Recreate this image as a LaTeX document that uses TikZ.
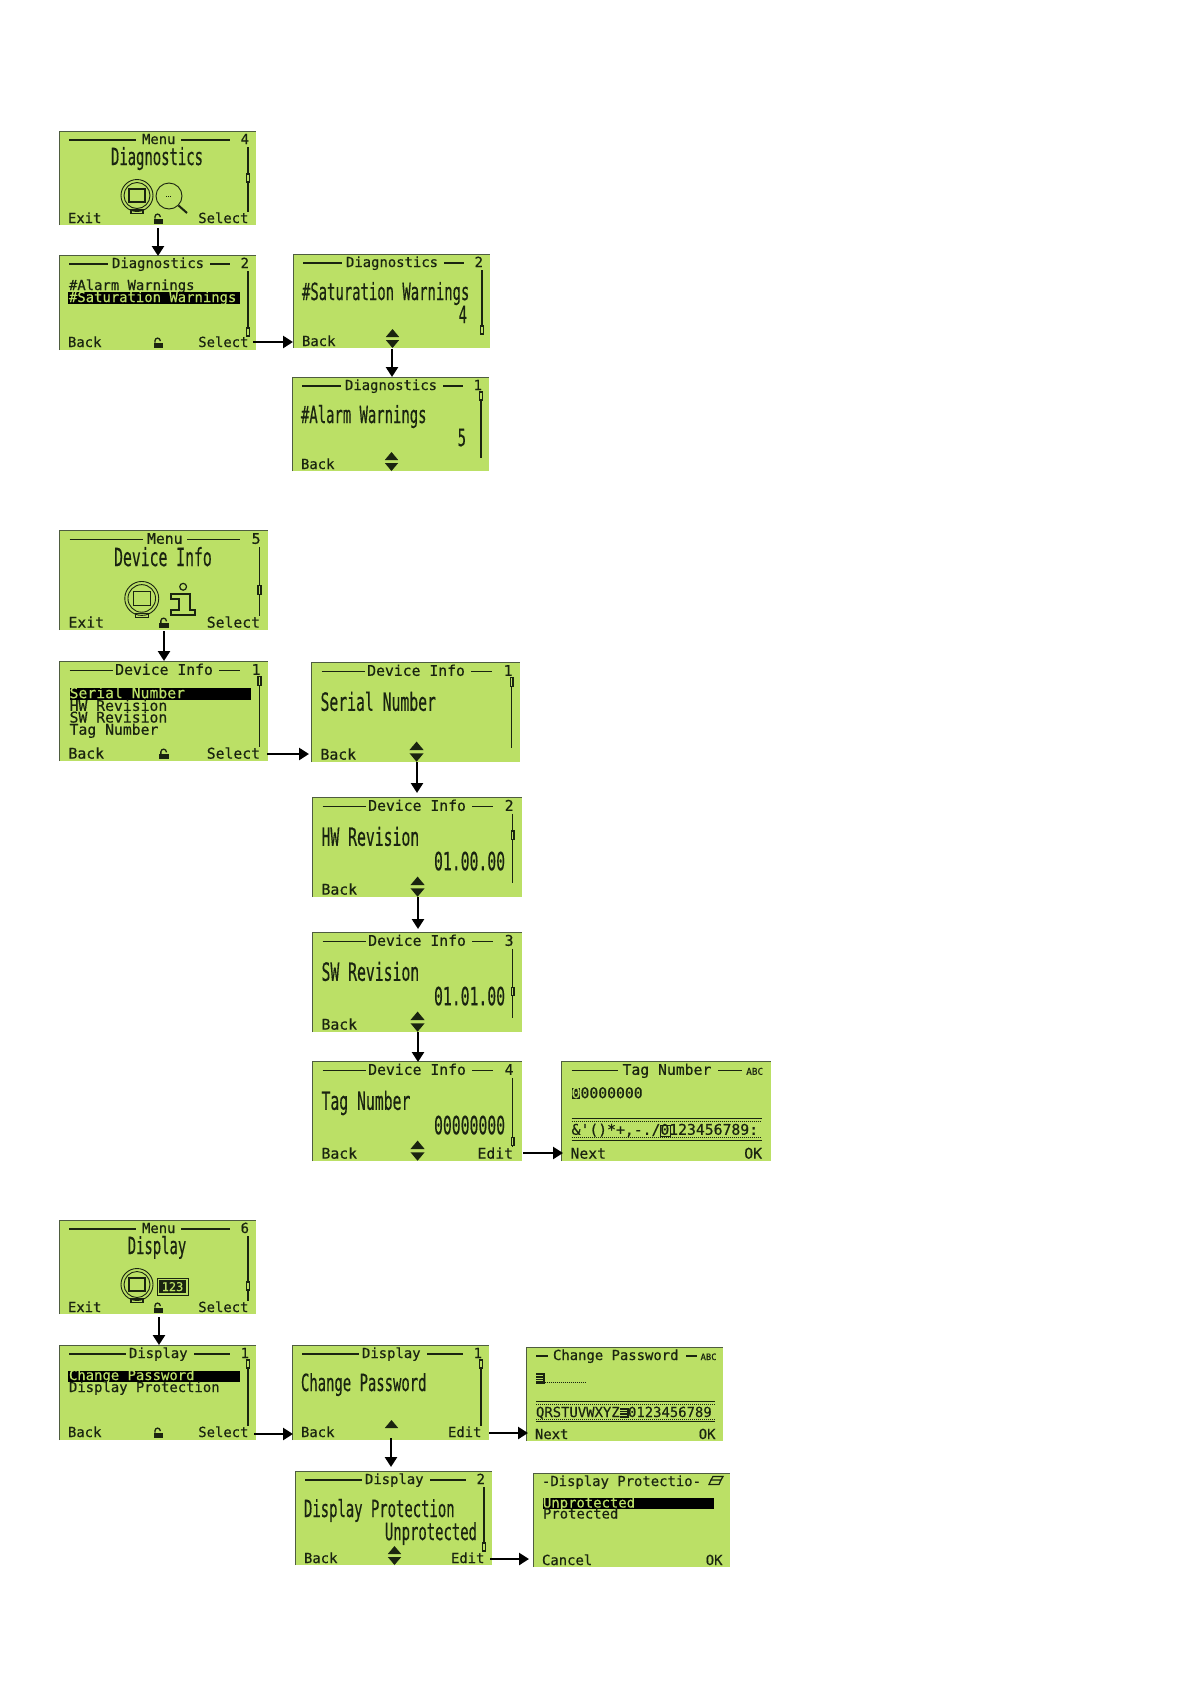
\documentclass[tikz,border=0pt]{standalone}
\usepackage{fontspec}
\usetikzlibrary{arrows.meta,calc}
\newfontfamily\lcdfam[FakeBold=0.5]{DejaVu Sans Mono}
\definecolor{lcdbg}{HTML}{BBE066}
\definecolor{lcdink}{HTML}{1A2410}
\definecolor{lcdedge}{HTML}{4E5C40}
\newcounter{tn}
\tikzset{
  lcd/.style={fill=lcdbg,draw=none,inner sep=0pt,outer sep=0pt,anchor=north west},
  edgeline/.style={draw=lcdedge,line width=1pt},
  txt/.style={transform shape,font=\lcdfam\fontsize{13.9}{14}\selectfont,text=lcdink,inner sep=0pt,outer sep=0pt},
  inv/.style={txt,text=lcdbg},
  ink/.style={draw=lcdink,line width=1.1pt},
  flow/.style={draw=black,line width=2.6pt,-{Triangle[length=10pt,width=12pt]}}
}
\newcommand\TxtL[3]{\stepcounter{tn}\node[txt,anchor=base west] (t\arabic{tn}) at (#1,#2) {#3};}
\newcommand\TxtR[3]{\stepcounter{tn}\node[txt,anchor=base east] (t\arabic{tn}) at (#1,#2) {#3};}
\newcommand\TxtInv[3]{\stepcounter{tn}\node[inv,anchor=base west] (t\arabic{tn}) at (#1,#2) {#3};}
\newcommand\BigL[3]{\stepcounter{tn}\node[txt,anchor=base west] (t\arabic{tn}) at (#1,#2) {\scalebox{1}[1.7]{#3}};}
\newcommand\BigR[3]{\stepcounter{tn}\node[txt,anchor=base east] (t\arabic{tn}) at (#1,#2) {\scalebox{1}[1.7]{#3}};}
\newcommand\BigC[3]{\stepcounter{tn}\node[txt,anchor=base] (t\arabic{tn}) at (#1,#2) {\scalebox{1}[1.7]{#3}};}
% name, x, y, w, h, scale, contents
\newcommand\Screen[7]{%
  \node[lcd,minimum width=#4pt,minimum height=#5pt] (#1) at (#2,#3) {};
  \draw[edgeline] (#1.south west) -- (#1.north west) -- (#1.north east);
  \begin{scope}[shift={(#2,#3)},scale=#6]#7\end{scope}
}
\newcommand\Head[5]{% rule end, title x, rule start, title, page
  \draw[ink] (10,9) -- (#1,9);
  \draw[ink] (#3,9) -- (171,9);
  \TxtL{#2}{13}{#4}
  \TxtR{190}{13}{#5}
}
\newcommand\Foot[2]{\TxtL{9}{92}{#1}\TxtR{189.5}{92}{#2}}
\newcommand\Sbar[3]{% top, bottom, knob
  \draw[ink] (189,#1) -- (189,#2);
  \filldraw[ink,fill=lcdbg] (187.6,#3-4) rectangle (190.4,#3+4);
}
\newcommand\Lock{%
  \fill[lcdink] (94.5,87.5) rectangle (104,92.5);
  \draw[lcdink,line width=1.3pt] (96,87.5) -- (96,85.7) arc[start angle=180,end angle=360,radius=2.6] -- (101.2,86);
}
\newcommand\UpTri{\fill[lcdink] (92.8,83) -- (106.2,83) -- (99.5,75) -- cycle;}
\newcommand\DnTri{\fill[lcdink] (92.8,86) -- (106.2,86) -- (99.5,94) -- cycle;}
\newcommand\Device{%
  \draw[lcdink,line width=.9pt] (78,64.5) circle[radius=16];
  \draw[lcdink,line width=.9pt] (78,64.5) circle[radius=13];
  \draw[lcdink,line width=1.1pt] (70,58) rectangle (86,71);
  \draw[lcdink,line width=1.1pt] (72,79) rectangle (84,82.5);
}
\newcommand\StripeBox[2]{%
  \fill[lcdink] (#1,#2) rectangle (#1+8.5,#2+10.5);
  \draw[lcdbg,line width=.7pt] (#1,#2+2.6) -- (#1+7,#2+2.6) (#1,#2+5.2) -- (#1+7,#2+5.2) (#1,#2+7.8) -- (#1+7,#2+7.8);
}
\newcommand\Strip{%
  \draw[ink] (10,54.5) -- (189,54.5);
  \draw[lcdink,line width=.9pt,dash pattern=on .9pt off 1.1pt] (10,57) -- (189,57);
  \draw[lcdink,line width=.9pt,dash pattern=on .9pt off 1.1pt] (10,72) -- (189,72);
  \draw[ink] (10,74.5) -- (189,74.5);
}
\newcommand\ABC{\stepcounter{tn}\node[txt,anchor=base east,font=\lcdfam\fontsize{8.8}{9}\selectfont] (t\arabic{tn}) at (190.5,13) {ABC};}
\begin{document}
\begin{tikzpicture}[x=1pt,y=-1pt]
\useasboundingbox[fill=white] (0,0) rectangle (1191,1684);

% ---------- Diagnostics ----------
\Screen{da}{59}{131}{197}{94}{1}{
  \Head{77}{83}{122}{Menu}{4}
  \Sbar{16}{81}{47}
  \BigC{98}{34}{Diagnostics}
  \Device
  \draw[lcdink,line width=.9pt] (110,65) circle[radius=13];
  \draw[lcdink,line width=2pt] (119.5,74.5) -- (128,82);
  \draw[lcdink,line width=.9pt,dash pattern=on 1pt off 1pt] (107,65) -- (113,65);
  \Foot{Exit}{Select}
  \Lock
}
\Screen{db}{59}{255}{197}{95}{1}{
  \Head{49}{53}{151}{Diagnostics}{2}
  \Sbar{16}{81}{77}
  \TxtL{10}{35}{\#Alarm Warnings}
  \fill[black] (9,37) rectangle (181,49);
  \TxtInv{10}{47}{\#Saturation Warnings}
  \Foot{Back}{Select}
  \Lock
}
\Screen{dc}{293}{254}{197}{94}{1}{
  \Head{49}{53}{151}{Diagnostics}{2}
  \Sbar{16}{81}{76}
  \BigL{9}{46}{\#Saturation Warnings}
  \BigR{174}{69}{4}
  \TxtL{9}{92}{Back}
  \UpTri \DnTri
}
\Screen{dd}{292}{377}{197}{94}{1}{
  \Head{49}{53}{151}{Diagnostics}{1}
  \Sbar{19}{81}{19}
  \BigL{9}{46}{\#Alarm Warnings}
  \BigR{174}{69}{5}
  \TxtL{9}{92}{Back}
  \UpTri \DnTri
}

% ---------- Device Info ----------
\Screen{ia}{59}{530}{209}{100}{1.061}{
  \Head{79}{83}{121}{Menu}{5}
  \Sbar{16}{81}{56.5}
  \BigC{98}{34}{Device Info}
  \Device
  \draw[lcdink,line width=1.2pt] (117,53.5) circle[radius=3.2];
  \draw[lcdink,line width=2pt] (106,60) -- (123,60) -- (123,75) -- (128,75) -- (128,80.5) -- (106,80.5) -- (106,75) -- (113,75) -- (113,65) -- (106,65) -- cycle;
  \Foot{Exit}{Select}
  \Lock
}
\Screen{ib}{59}{661}{209}{100}{1.061}{
  \Head{50.5}{53}{151}{Device Info}{1}
  \Sbar{19}{81}{19}
  \fill[black] (10,25.5) rectangle (181,37);
  \TxtInv{10}{35}{Serial Number}
  \TxtL{10}{47}{HW Revision}
  \TxtL{10}{58}{SW Revision}
  \TxtL{10}{69.5}{Tag Number}
  \Foot{Back}{Select}
  \Lock
}
\Screen{ic}{311}{662}{209}{100}{1.061}{
  \Head{50.5}{53}{151}{Device Info}{1}
  \Sbar{19}{81}{19}
  \BigL{9}{46}{Serial Number}
  \TxtL{9}{92}{Back}
  \UpTri \DnTri
}
\Screen{id}{312}{797}{210}{100}{1.061}{
  \Head{50.5}{53}{151}{Device Info}{2}
  \Sbar{16}{81}{36}
  \BigL{9}{46}{HW Revision}
  \BigR{182}{69}{01.00.00}
  \TxtL{9}{92}{Back}
  \UpTri \DnTri
}
\Screen{ie}{312}{932}{210}{100}{1.061}{
  \Head{50.5}{53}{151}{Device Info}{3}
  \Sbar{16}{81}{56}
  \BigL{9}{46}{SW Revision}
  \BigR{182}{69}{01.01.00}
  \TxtL{9}{92}{Back}
  \UpTri \DnTri
}
\Screen{if}{312}{1061}{210}{100}{1.061}{
  \Head{50.5}{53}{151}{Device Info}{4}
  \Sbar{16}{81}{76}
  \BigL{9}{46}{Tag Number}
  \BigR{182}{69}{00000000}
  \Foot{Back}{Edit}
  \UpTri \DnTri
}
\Screen{ig}{561}{1061}{210}{100}{1.061}{
  \draw[ink] (10,9) -- (54,9);
  \draw[ink] (148,9) -- (171,9);
  \TxtL{58}{13}{Tag Number}
  \ABC
  \fill[lcdink] (10,25.5) rectangle (18,36);
  \TxtInv{10}{35}{0}
  \TxtL{18.4}{35}{0000000}
  \Strip
  \TxtL{10}{69.5}{\&'()*+,-./0123456789:}
  \draw[lcdink,line width=1.4pt] (93.5,61) rectangle (103,71);
  \Foot{Next}{OK}
}

% ---------- Display ----------
\Screen{pa}{59}{1220}{197}{94}{1}{
  \Head{77}{83}{122}{Menu}{6}
  \Sbar{16}{81}{66}
  \BigC{98}{34}{Display}
  \Device
  \draw[lcdink,line width=1pt] (98,58) rectangle (129,75);
  \fill[lcdink] (100,60) rectangle (127,73);
  \stepcounter{tn}\node[inv,anchor=base,font=\lcdfam\fontsize{12}{12}\selectfont] (t\arabic{tn}) at (113.5,71) {123};
  \Foot{Exit}{Select}
  \Lock
}
\Screen{pb}{59}{1345}{197}{95}{1}{
  \Head{67}{70}{135}{Display}{1}
  \Sbar{19}{81}{19}
  \fill[black] (9,25.7) rectangle (181,37.3);
  \TxtInv{10}{35}{Change Password}
  \TxtL{10}{47}{Display Protection}
  \Foot{Back}{Select}
  \Lock
}
\Screen{pc}{292}{1345}{197}{95}{1}{
  \Head{67}{70}{135}{Display}{1}
  \Sbar{19}{81}{19}
  \BigL{9}{46}{Change Password}
  \Foot{Back}{Edit}
  \UpTri
}
\Screen{pd}{295}{1471}{197}{94}{1}{
  \Head{67}{70}{135}{Display}{2}
  \Sbar{16}{81}{76}
  \BigL{9}{46}{Display Protection}
  \BigR{182}{69}{Unprotected}
  \Foot{Back}{Edit}
  \UpTri \DnTri
}
\Screen{pe}{526}{1347}{197}{94}{1}{
  \draw[ink] (10,9) -- (22,9);
  \draw[ink] (160,9) -- (171,9);
  \TxtL{27}{13}{Change Password}
  \ABC
  \StripeBox{10}{26}
  \draw[lcdink,line width=.9pt,dash pattern=on .9pt off 1.1pt] (18.5,35.5) -- (60,35.5);
  \Strip
  \TxtL{10}{70}{QRSTUVWXYZ 0123456789}
  \StripeBox{94}{60.5}
  \Foot{Next}{OK}
}
\Screen{pf}{533}{1473}{197}{94}{1}{
  \TxtL{9}{13}{-Display Protectio-}
  \draw[lcdink,line width=1.2pt] (176,11.5) -- (186,11.5) -- (188,7) -- (178,7) -- cycle;
  \draw[lcdink,line width=1.2pt] (178,7) -- (180,3.5) -- (190,3.5) -- (188,7);
  \fill[black] (10,25) rectangle (181,36);
  \TxtInv{10}{34.5}{Unprotected}
  \TxtL{10}{45.5}{Protected}
  \Foot{Cancel}{OK}
}

% ---------- connectors ----------
\draw[flow] ([xshift=.5pt,yshift=-3pt]da.south) -- ([xshift=.5pt,yshift=-1pt]da.south |- db.north);
\draw[flow] ([xshift=-3pt,yshift=8pt]db.south east) -- ([yshift=8pt]db.south east -| dc.west);
\draw[flow] ([xshift=.5pt,yshift=-1pt]dc.south) -- ([xshift=.5pt]dc.south |- dd.north);

\draw[flow] ([xshift=.5pt,yshift=-1pt]ia.south) -- ([xshift=.5pt]ia.south |- ib.north);
\draw[flow] ([xshift=-1pt,yshift=7pt]ib.south east) -- ([xshift=-2pt,yshift=7pt]ib.south east -| ic.west);
\draw[flow] ([xshift=1.5pt]ic.south) -- ([xshift=1.5pt,yshift=4pt]ic.south |- id.north);
\draw[flow] ([xshift=1pt]id.south) -- ([xshift=1pt,yshift=3pt]id.south |- ie.north);
\draw[flow] ([xshift=1pt]ie.south) -- ([xshift=1pt,yshift=-1pt]ie.south |- if.north);
\draw[flow] ([xshift=1pt,yshift=8pt]if.south east) -- ([xshift=2pt,yshift=8pt]if.south east -| ig.west);

\draw[flow] ([xshift=1.5pt,yshift=-3pt]pa.south) -- ([xshift=1.5pt]pa.south |- pb.north);
\draw[flow] ([xshift=-2pt,yshift=6pt]pb.south east) -- ([xshift=1pt,yshift=6pt]pb.south east -| pc.west);
\draw[flow] ([xshift=.5pt,yshift=2pt]pc.south) -- ([xshift=.5pt,yshift=4pt]pc.south |- pd.north);
\draw[flow] ([yshift=7pt]pc.south east) -- ([xshift=2pt,yshift=7pt]pc.south east -| pe.west);
\draw[flow] ([xshift=-2pt,yshift=6pt]pd.south east) -- ([xshift=-4pt,yshift=6pt]pd.south east -| pf.west);
\end{tikzpicture}
\end{document}
